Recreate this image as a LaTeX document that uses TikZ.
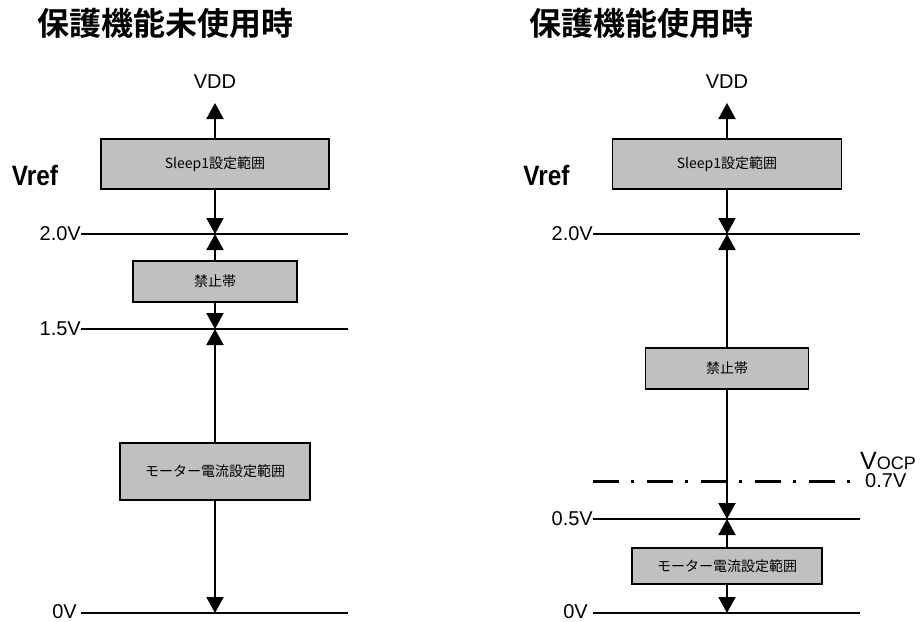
\documentclass[tikz,border=0pt]{standalone}
\usepackage{fontspec}
\setmainfont{Liberation Sans}
\newfontfamily\cjk{Noto Sans CJK JP}[BoldFont={Noto Sans CJK JP Bold}]
\usepackage{xcolor}
\definecolor{bandGray}{HTML}{C0C0C0}
\definecolor{lineDark}{HTML}{000000}
\usetikzlibrary{arrows.meta,positioning}
\tikzset{
    band/.style={
        draw=lineDark,
        fill=bandGray,
        rectangle,
        line width=1.5pt,
        inner sep=0pt,
        align=center,
        font=\cjk\fontsize{14}{16}\selectfont
    },
    level/.style={
        line width=2.4pt,
        color=lineDark
    },
    ocpline/.style={
        line width=3pt,
        color=lineDark,
        dash pattern=on 26pt off 12pt on 3pt off 13pt
    },
    arrow/.style={
        -{Triangle[length=16pt,width=17pt]},
        line width=2pt,
        color=lineDark
    },
    vlabel/.style={
        anchor=east,
        inner sep=0pt,
        font=\fontsize{20}{22}\selectfont
    },
    title/.style={
        inner sep=0pt,
        font=\cjk\bfseries\fontsize{32}{34}\selectfont
    },
    vref/.style={
        inner sep=0pt,
        xscale=0.87,
        font=\bfseries\fontsize{28}{30}\selectfont
    }
}

\begin{document}
\begin{tikzpicture}[x=1pt,y=-1pt]
    \useasboundingbox (0,0) rectangle (923,621);

    % Left: protection off
    \node[title] (titleL) at (165,23) {保護機能未使用時};
    \node[vref] (vrefL) at (35,175) {Vref};
    \node[band, minimum width=228pt, minimum height=50pt] (sleepL) at (215,164) {Sleep1設定範囲};
    \node[band, minimum width=164pt, minimum height=41pt] (forbidL) at (215,281.5) {禁止帯};
    \node[band, minimum width=190pt, minimum height=57pt] (motorL) at (215,471.5) {モーター電流設定範囲};

    \coordinate (vddL) at (215,103);
    \node[inner sep=0pt, font=\fontsize{20}{22}\selectfont, above=14pt of vddL] (vddtextL) {VDD};
    \coordinate (hiL) at (215,234);
    \coordinate (midL) at (215,329);
    \coordinate (zeroL) at (215,613);

    % Levels
    \coordinate (hiLa) at (81,234);   \coordinate (hiLb) at (348,234);
    \coordinate (midLa) at (81,329);  \coordinate (midLb) at (348,329);
    \coordinate (zeroLa) at (81,613); \coordinate (zeroLb) at (348,613);
    \draw[level] (hiLa) -- (hiLb);
    \draw[level] (midLa) -- (midLb);
    \draw[level] (zeroLa) -- (zeroLb);
    \node[vlabel] (hitextL) at (hiLa) {2.0V};
    \node[vlabel] (midtextL) at (midLa) {1.5V};
    \node[vlabel, xshift=-4pt, yshift=1.5pt] (zerotextL) at (zeroLa) {0V};

    % Arrows
    \draw[arrow] (sleepL) -- (vddL);
    \draw[arrow] (sleepL) -- (hiL);
    \draw[arrow] (forbidL) -- (hiL);
    \draw[arrow] (forbidL) -- (midL);
    \draw[arrow] (motorL) -- (midL);
    \draw[arrow] (motorL) -- (zeroL);

    % Right: protection on
    \node[title] (titleR) at (641.5,23) {保護機能使用時};
    \node[vref] (vrefR) at (546.5,175) {Vref};
    \node[band, minimum width=229pt, minimum height=50pt] (sleepR) at (727,164) {Sleep1設定範囲};
    \node[band, minimum width=163pt, minimum height=41pt] (forbidR) at (727,368.5) {禁止帯};
    \node[band, minimum width=190pt, minimum height=36pt] (motorR) at (727,566) {モーター電流設定範囲};

    \coordinate (vddR) at (727,103);
    \node[inner sep=0pt, font=\fontsize{20}{22}\selectfont, above=14pt of vddR] (vddtextR) {VDD};
    \coordinate (hiR) at (727,234);
    \coordinate (lowR) at (727,519);
    \coordinate (zeroR) at (727,613);

    % Levels
    \coordinate (hiRa) at (593,234);   \coordinate (hiRb) at (860,234);
    \coordinate (lowRa) at (593,519);  \coordinate (lowRb) at (860,519);
    \coordinate (zeroRa) at (593,613); \coordinate (zeroRb) at (860,613);
    \coordinate (ocpRa) at (593,481);  \coordinate (ocpRb) at (854,481);
    \draw[level] (hiRa) -- (hiRb);
    \draw[level] (lowRa) -- (lowRb);
    \draw[level] (zeroRa) -- (zeroRb);
    \draw[ocpline] (ocpRa) -- (ocpRb);
    \node[vlabel] (hitextR) at (hiRa) {2.0V};
    \node[vlabel] (lowtextR) at (lowRa) {0.5V};
    \node[vlabel, xshift=-5pt, yshift=1.5pt] (zerotextR) at (zeroRa) {0V};
    \node[anchor=base west, inner sep=0pt, font=\fontsize{25}{27}\selectfont] (ocptext) at (860,469) {V\fontsize{18}{20}\selectfont OCP};
    \node[anchor=base west, inner sep=0pt, font=\fontsize{20}{22}\selectfont] (ocpval) at (865,487) {0.7V};

    % Arrows
    \draw[arrow] (sleepR) -- (vddR);
    \draw[arrow] (sleepR) -- (hiR);
    \draw[arrow] (forbidR) -- (hiR);
    \draw[arrow] (forbidR) -- (lowR);
    \draw[arrow] (motorR) -- (lowR);
    \draw[arrow] (motorR) -- (zeroR);
\end{tikzpicture}
\end{document}
